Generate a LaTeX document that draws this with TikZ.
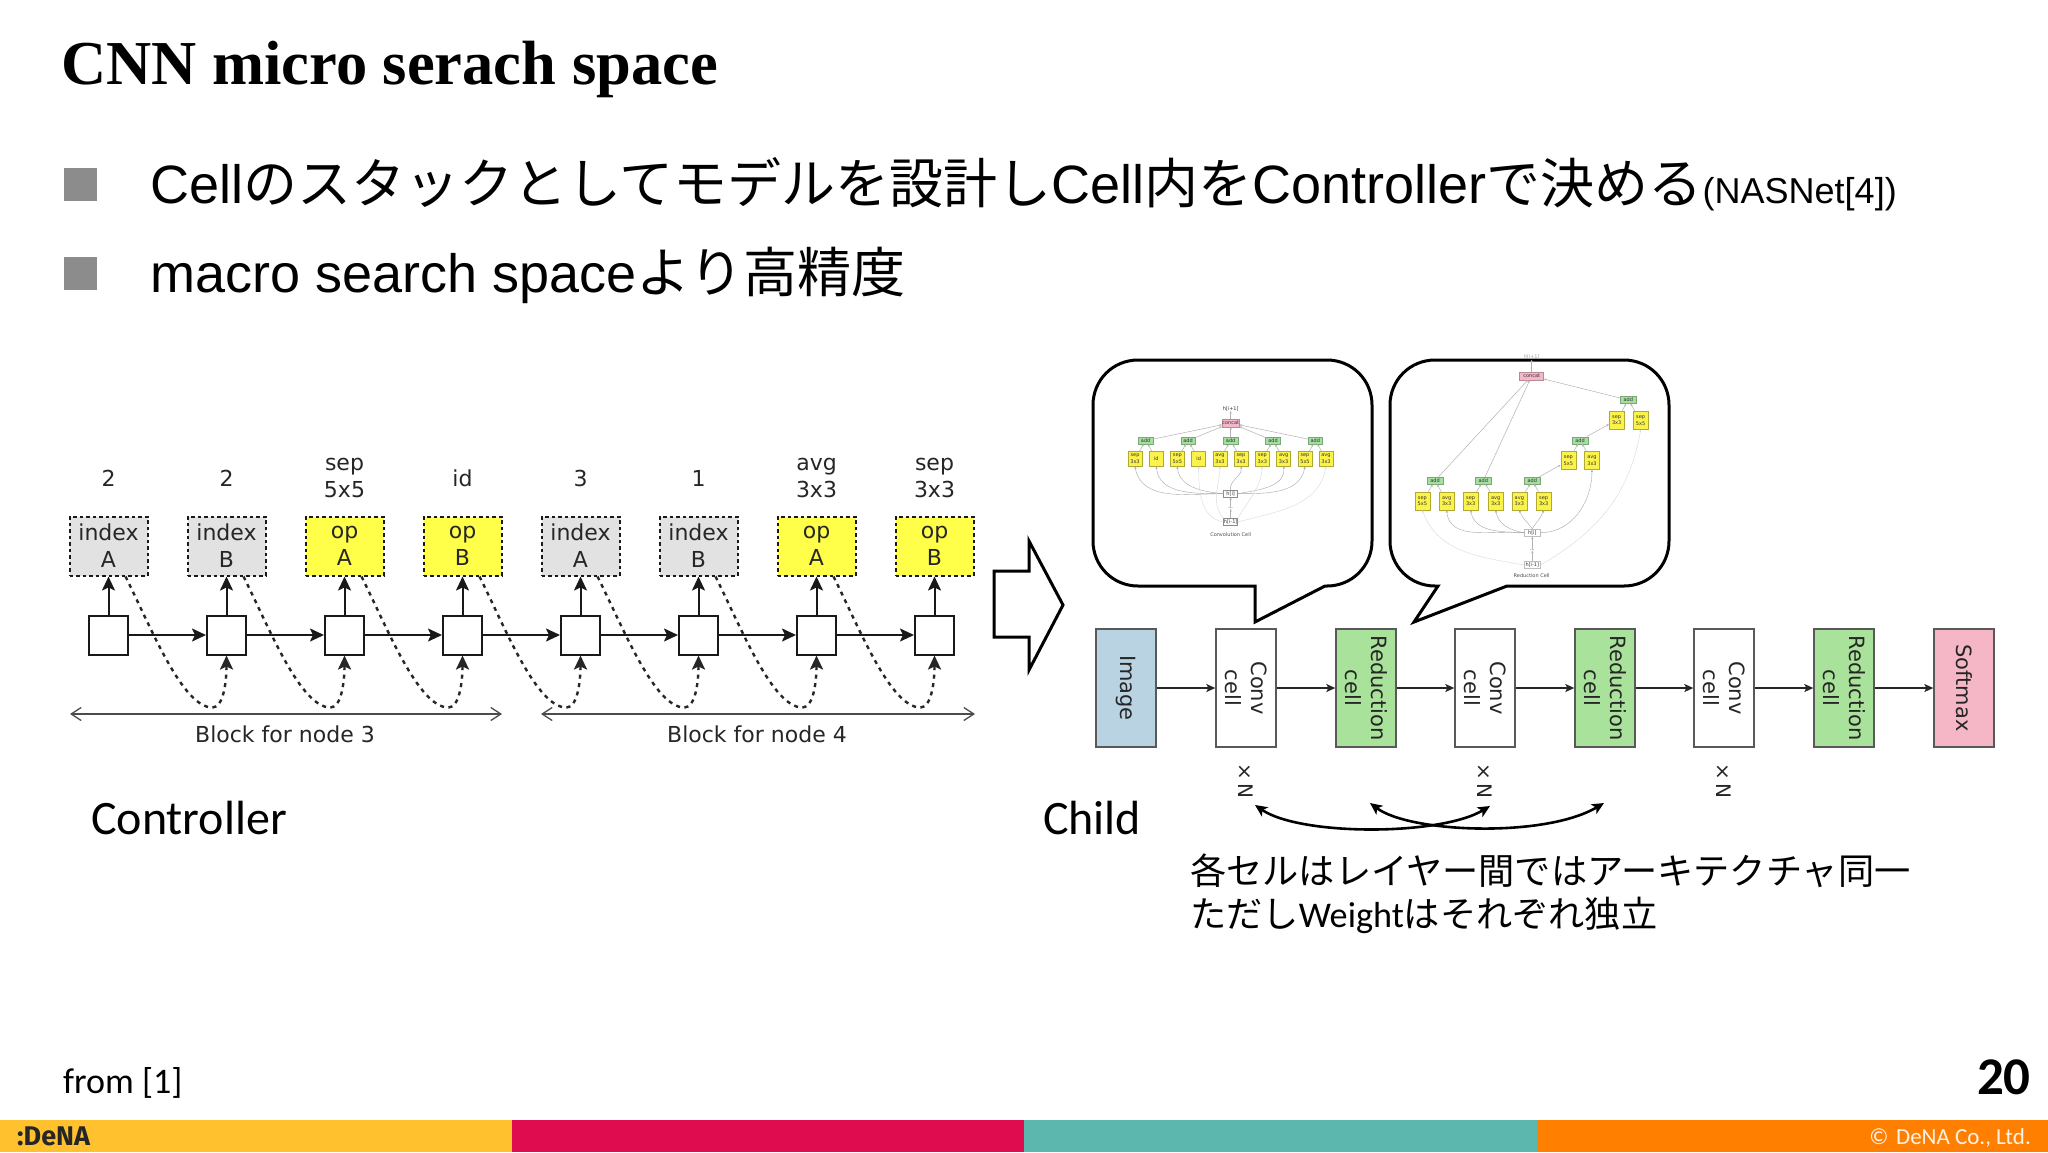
\documentclass[tikz,border=0pt]{standalone}
\usepackage{fontspec}
\usetikzlibrary{arrows.meta,positioning}
\setmainfont{Carlito}
\newfontfamily\djv{DejaVu Sans}
\newfontfamily\lib{Liberation Sans}
\newfontfamily\jpf{Noto Sans CJK JP}
\newfontfamily\tit{Liberation Serif}
\newfontfamily\logo{Fira Sans}
\newcommand{\fsz}[1]{\fontsize{#1}{#1}\selectfont}
\definecolor{idxgray}{HTML}{E2E2E2}
\definecolor{opyel}{HTML}{FFFF4A}
\definecolor{ggreen}{HTML}{A9E29A}
\definecolor{mgreen}{HTML}{A5DFA0}
\definecolor{iblue}{HTML}{B9D3E3}
\definecolor{spink}{HTML}{F5B7C6}
\definecolor{mpink}{HTML}{F4B8C8}
\definecolor{myel}{HTML}{FBF24A}
\definecolor{bullet}{HTML}{8C8C8C}
\tikzset{
 dia/.style={font=\djv\fontsize{22}{27}\selectfont,text=black!85,align=center,inner sep=0pt},
 sel/.style={dia,draw=black!90,line width=2pt,dash pattern=on 3.5pt off 3pt,minimum width=78pt,minimum height=59pt},
 idx/.style={sel,fill=idxgray},
 opb/.style={sel,fill=opyel},
 sqr/.style={draw=black!90,line width=2pt,fill=white,minimum size=39pt,inner sep=0pt},
 flow/.style={line width=2pt,draw=black!90,-{Stealth[length=14pt,width=13pt,inset=3pt]}},
 dashflow/.style={line width=2.4pt,draw=black!85,dash pattern=on 4pt off 4.5pt,-{Stealth[length=14pt,width=13pt,inset=3pt]}},
 brace/.style={line width=1.3pt,draw=black!70,{Straight Barb[length=10pt,width=13pt]}-{Straight Barb[length=10pt,width=13pt]}},
 cbox/.style={font=\djv\fontsize{21}{26}\selectfont,text=black!85,align=center,inner sep=0pt,draw=black!65,line width=1.4pt,minimum width=118pt,minimum height=60pt,rotate=-90},
 cflow/.style={line width=1.4pt,draw=black!85,-{Stealth[length=9pt,width=8pt,inset=2pt]}},
 dbl/.style={line width=2.6pt,draw=black,{Stealth[length=12pt,width=11pt,inset=3pt]}-{Stealth[length=12pt,width=11pt,inset=3pt]}},
 bubble/.style={draw=black,line width=3pt,fill=white,line join=miter},
 mini/.style={font=\djv\fontsize{5}{6.2}\selectfont,text=black!80,align=center,inner sep=0pt},
 myb/.style={mini,draw=black!30!myel,fill=myel,line width=.5pt,minimum width=14pt,minimum height=15pt},
 madd/.style={mini,draw=black!25!mgreen,fill=mgreen,line width=.5pt,minimum width=14.5pt,minimum height=7pt},
 mcon/.style={mini,draw=black!25!mpink,fill=mpink,line width=.5pt,minimum width=17pt,minimum height=7.5pt},
 mh/.style={mini,draw=black!45,fill=white,line width=.5pt,minimum width=14pt,minimum height=7pt},
 mtx/.style={mini},
 mup/.style={line width=.5pt,draw=black!30,-{Stealth[length=2.5pt,width=2.2pt]}},
 mcur/.style={line width=.4pt,draw=black!35,-{Stealth[length=2.5pt,width=2.2pt]}},
 mfad/.style={line width=.4pt,draw=black!15,-{Stealth[length=2.5pt,width=2.2pt]}},
 txt/.style={inner sep=0pt,anchor=west},
}
\begin{document}
\begin{tikzpicture}[x=1pt,y=-1pt]
\useasboundingbox (0,0) rectangle (2048,1152);
\fill[white] (0,0) rectangle (2048,1152);
% title
\node[txt,font=\tit\bfseries\fsz{62.5}] (title) at (61,69) {CNN micro serach space};
% bullets
\node[fill=bullet,minimum size=33pt,inner sep=0pt] (bu1) at (80,184) {};
\node[fill=bullet,minimum size=33pt,inner sep=0pt] (bu2) at (80,273) {};
\node[txt,font=\lib\fsz{54}] (l1) at (150,184) {Cell{\jpf のスタックとしてモデルを設計し}Cell{\jpf 内を}Controller{\jpf で決める}{\fsz{36}(NASNet[4])}};
\node[txt,font=\lib\fsz{54}] (l2) at (150,275) {macro search space{\jpf より高精度}};
% controller
\foreach \i/\x/\cl/\a/\b/\lab in {1/108.5/idx/index/A/2,2/226.5/idx/index/B/2,3/344.5/opb/op/A/{sep\\5x5},4/462.5/opb/op/B/id,5/580.5/idx/index/A/3,6/698.5/idx/index/B/1,7/816.5/opb/op/A/{avg\\3x3},8/934.5/opb/op/B/{sep\\3x3}}{
  \node[\cl] (b\i) at (\x,546) {\a\\\b};
  \node[sqr] (s\i) at (\x,635) {};
  \node[dia] (t\i) at (\x,478) {\lab};
  \draw[flow] (s\i) -- (b\i);
}
\foreach \i/\j in {1/2,2/3,3/4,4/5,5/6,6/7,7/8}{
  \draw[flow] (s\i) -- (s\j);
}
\foreach \i/\j in {1/2,2/3,3/4,5/6,6/7,7/8,4/5}{
  \draw[dashflow] ([xshift=17pt]b\i.south) .. controls +(26,52) and +(-30,0) .. ([xshift=-14pt,yshift=-52pt]s\j.south) .. controls +(11,0) and +(0,26) .. (s\j.south);
}
\coordinate (ba1) at (70,714); \coordinate (ba2) at (502,714);
\coordinate (bb1) at (541,714); \coordinate (bb2) at (975,714);
\draw[brace] (ba1) -- (ba2);
\draw[brace] (bb1) -- (bb2);
\node[dia] (bl1) at (285,734) {Block for node 3};
\node[dia] (bl2) at (757,734) {Block for node 4};
\node[txt,font=\fsz{48}] (ctrl) at (91,818) {Controller};
\node[txt,font=\fsz{48}] (chi) at (1043,818) {Child};
% big arrow
\draw[line width=3pt,draw=black,fill=white,line join=miter] (994,571) -- (1029,571) -- (1029,541) -- (1063,605) -- (1029,670) -- (1029,637) -- (994,637) -- cycle;
% bubbles
\draw[bubble] (1138,360) -- (1327,360) .. controls (1352,360) and (1372,380) .. (1372,405) -- (1372,541) .. controls (1372,566) and (1352,586) .. (1327,586) -- (1325,586) -- (1255,622) -- (1255,586) -- (1138,586) .. controls (1113,586) and (1093,566) .. (1093,541) -- (1093,405) .. controls (1093,380) and (1113,360) .. (1138,360) -- cycle;
\draw[bubble] (1435,360) -- (1624,360) .. controls (1649,360) and (1669,380) .. (1669,405) -- (1669,541) .. controls (1669,566) and (1649,586) .. (1624,586) -- (1507,586) -- (1414,622) -- (1438,586) -- (1435,586) .. controls (1410,586) and (1390,566) .. (1390,541) -- (1390,405) .. controls (1390,380) and (1410,360) .. (1435,360) -- cycle;
% conv cell
\begin{scope}[shift={(1080,350)},x=.3333pt,y=-.3333pt]
\node[mtx] (co) at (452,176) {h[i+1]};
\node[mcon] (cc) at (452,219) {concat};
\node[mh] (chi0) at (452,431) {h[i]};
\node[mtx] (cd) at (452,475) {...};
\node[mh] (chm) at (452,516) {h[i-1]};
\node[mtx,text=black!70] (cname) at (452,553) {Convolution Cell};
\draw[mup] (cc) -- (co);
\draw[mup] (chm) -- (cd);
\draw[mup] (cd) -- (chi0);
\foreach \n/\x in {1/197,2/324,3/452,4/579,5/706}{
  \node[madd] (ca\n) at (\x,272) {add};
  \draw[mup] (ca\n) -- (cc);
}
\foreach \n/\x/\t/\a/\src in {1/165/{sep\\3x3}/1/chi0,2/229/id/1/chi0,3/292/{sep\\5x5}/2/chi0,4/356/id/2/chm,5/420/{avg\\3x3}/3/chm,6/483/{sep\\3x3}/3/chi0,7/547/{sep\\3x3}/4/chm,8/611/{avg\\3x3}/4/chi0,9/675/{sep\\5x5}/5/chi0,10/738/{avg\\3x3}/5/chm}{
  \node[myb] (cy\n) at (\x,326) {\t};
  \draw[mup] (cy\n) -- (ca\a);
}
\draw[mcur] (chi0.west) to[out=180,in=-80] (cy1.south);
\draw[mcur] (chi0.west) to[out=180,in=-85] (cy2.south);
\draw[mcur] (chi0.west) to[out=175,in=-85] (cy3.south);
\draw[mcur] (chi0.north) to[out=100,in=-80] (cy6.south);
\draw[mcur] (chi0.east) to[out=10,in=-85] (cy8.south);
\draw[mcur] (chi0.east) to[out=0,in=-100] (cy9.south);
\draw[mfad] (chm.west) to[out=170,in=-90] (cy4.south);
\draw[mfad] (chm.north west) to[out=130,in=-92] (cy5.south);
\draw[mfad] (chm.north east) to[out=60,in=-95] (cy7.south);
\draw[mfad] (chm.east) to[out=15,in=-100] (cy10.south);
\end{scope}
% reduction cell
\begin{scope}[shift={(1380,350)},x=.3333pt,y=-.3333pt]
\node[mtx,text=black!35] (ro) at (455,22) {h[i+1]};
\node[mcon,minimum width=24pt] (rc) at (455,78) {concat};
\node[mh,minimum width=16pt,draw=black!25] (rh0) at (457,548) {h[i]};
\node[mtx] (rd) at (457,600) {...};
\node[mh,minimum width=16pt,draw=black!25] (rhm) at (457,645) {h[i-1]};
\node[mtx,text=black!70] (rname) at (455,677) {Reduction Cell};
\draw[mup] (rc) -- (ro);
\draw[mup] (rhm) -- (rd);
\draw[mup] (rd) -- (rh0);
\foreach \n/\x/\y in {1/745/150,2/600/271,3/457/392,4/310/392,5/165/392}{
  \node[madd,minimum width=16pt] (ra\n) at (\x,\y) {add};
}
\draw[mup] (ra1) -- (rc);
\draw[mup] (ra4) -- (rc);
\draw[mup] (ra5) -- (rc);
\foreach \n/\x/\y/\t in {1/710/210/{sep\\3x3},2/782/212/{sep\\5x5},3/565/332/{sep\\5x5},4/636/332/{avg\\3x3},5/127/453/{sep\\5x5},6/200/453/{avg\\3x3},7/272/453/{sep\\3x3},8/347/453/{avg\\3x3},9/418/453/{avg\\3x3},10/491/453/{sep\\3x3}}{
  \node[myb,minimum width=15pt,minimum height=18pt] (ry\n) at (\x,\y) {\t};
}
\foreach \y/\a in {1/1,2/1,3/2,4/2,5/5,6/5,7/4,8/4,9/3,10/3}{
  \draw[mup] (ry\y) -- (ra\a);
}
\draw[mup] (ra2) -- (ry1);
\draw[mup] (ra3) -- (ry3);
\draw[mcur] (rh0.west) to[out=175,in=-85] (ry6.south);
\draw[mcur] (rh0.west) to[out=178,in=-80] (ry7.south);
\draw[mcur] (rh0.west) to[out=172,in=-80] (ry8.south);
\draw[mcur] (rh0.north) to[out=125,in=-70] (ry9.south);
\draw[mcur] (rh0.north) to[out=60,in=-110] (ry10.south);
\draw[mcur] (rh0.east) to[out=0,in=-90] (ry4.south);
\draw[mfad,draw=black!15] (rhm.west) to[out=170,in=-70] (ry5.south);
\draw[mfad,draw=black!15] (rhm.east) to[out=30,in=-100] (ry2.south);
\end{scope}
% child
\node[cbox,fill=iblue] (c1) at (1126,688) {Image};
\node[cbox,fill=white] (c2) at (1246,688) {Conv\\cell};
\node[cbox,fill=ggreen] (c3) at (1366,688) {Reduction\\cell};
\node[cbox,fill=white] (c4) at (1485,688) {Conv\\cell};
\node[cbox,fill=ggreen] (c5) at (1605,688) {Reduction\\cell};
\node[cbox,fill=white] (c6) at (1724,688) {Conv\\cell};
\node[cbox,fill=ggreen] (c7) at (1844,688) {Reduction\\cell};
\node[cbox,fill=spink] (c8) at (1964,688) {Softmax};
\foreach \i/\j in {1/2,2/3,3/4,4/5,5/6,6/7,7/8}{ \draw[cflow] (c\i) -- (c\j); }
\foreach \i/\x in {1/1246,2/1485,3/1724}{
  \node[rotate=-90,inner sep=0pt,text=black!85,font=\djv\fsz{20}] (n\i) at (\x,781) {×\hspace{3pt}N};
}
\coordinate (da) at (1255,805); \coordinate (db) at (1490,806);
\coordinate (dc) at (1370,803); \coordinate (dd) at (1604,803);
\draw[dbl] (da) .. controls (1300,836) and (1440,836) .. (db);
\draw[dbl] (dc) .. controls (1410,833) and (1545,838) .. (dd);
\node[txt,font=\jpf\fsz{36.2}] (j1) at (1190,871) {各セルはレイヤー間ではアーキテクチャ同一};
\node[txt,font=\jpf\fsz{36.2}] (j2) at (1190,915) {ただし{\rmfamily Weight}はそれぞれ独立};
% footer
\node[txt,font=\fsz{36}] (src) at (63,1083) {from [1]};
\node[anchor=east,inner sep=0pt,font=\bfseries\fsz{53}] (pg) at (2031,1077) {20};
\fill[fill=white] (0,1118) rectangle (2048,1152);
\fill[color={rgb,255:red,255;green,193;blue,45}] (0,1120) rectangle (512,1152);
\fill[color={rgb,255:red,223;green,12;blue,80}] (512,1120) rectangle (1024,1152);
\fill[color={rgb,255:red,92;green,184;blue,174}] (1024,1120) rectangle (1537,1152);
\fill[color={rgb,255:red,255;green,127;blue,0}] (1537,1120) rectangle (2048,1152);
\node[txt,font=\logo\bfseries\fsz{27},text=black!85] (lg) at (17,1136) {:DeNA};
\node[anchor=east,inner sep=0pt,font=\fsz{23},text=white!90!orange] (cp) at (2031,1138) {©\,\,DeNA Co., Ltd.};
\end{tikzpicture}
\end{document}
